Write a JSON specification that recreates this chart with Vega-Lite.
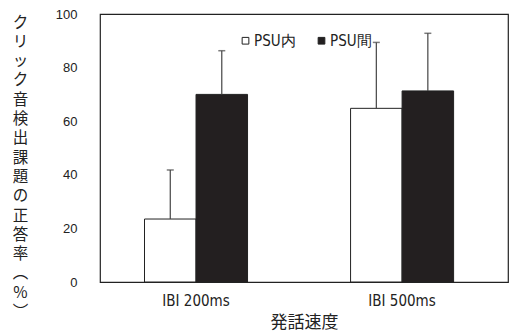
{
  "$schema": "https://vega.github.io/schema/vega-lite/v6.json",
  "width": 408,
  "height": 268,
  "autosize": {"type": "none"},
  "padding": {"left": 100, "top": 14, "right": 1, "bottom": 53},
  "background": "white",
  "config": {
    "view": {"stroke": "#222", "strokeWidth": 1.2},
    "font": "Noto Sans CJK JP"
  },
  "data": {
    "values": [
      {"speed": "IBI 200ms", "group": "PSU内", "value": 23.5, "upper": 41.8},
      {"speed": "IBI 200ms", "group": "PSU間", "value": 70.0, "upper": 86.3},
      {"speed": "IBI 500ms", "group": "PSU内", "value": 64.8, "upper": 89.4},
      {"speed": "IBI 500ms", "group": "PSU間", "value": 71.3, "upper": 92.8}
    ]
  },
  "encoding": {
    "x": {
      "field": "speed", "type": "nominal",
      "scale": {"paddingInner": 0.5, "paddingOuter": 0.24, "align": 0.45},
      "axis": {
        "title": "発話速度", "labelAngle": 0, "ticks": false, "domain": false, "grid": false,
        "labelFontSize": 15, "labelColor": "#222", "labelFont": "DejaVu Sans Condensed", "labelPadding": 11,
        "titleFontSize": 17, "titleColor": "#222", "titleFontWeight": "normal", "titlePadding": 6
      }
    },
    "xOffset": {"field": "group", "type": "nominal", "scale": {"paddingInner": 0, "paddingOuter": 0}}
  },
  "layer": [
    {
      "mark": {"type": "bar", "stroke": "#222", "strokeWidth": 1},
      "encoding": {
        "y": {
          "field": "value", "type": "quantitative",
          "scale": {"domain": [0, 100], "nice": false},
          "axis": {
            "values": [0, 20, 40, 60, 80, 100], "grid": false, "ticks": false, "domain": false,
            "labelFontSize": 13, "labelColor": "#222", "labelFont": "Liberation Sans", "labelPadding": 23,
            "title": ["ク","リ","ッ","ク","音","検","出","課","題","の","正","答","率","︵","%","︶"],
            "titleAngle": 0, "titleAlign": "center", "titleBaseline": "top",
            "titleX": -80, "titleY": 1, "titleFontSize": 15.5, "titleLineHeight": 19.3,
            "titleFontWeight": "normal", "titleColor": "#222"
          }
        },
        "fill": {
          "field": "group", "type": "nominal",
          "scale": {"domain": ["PSU内", "PSU間"], "range": ["white", "#231f20"]},
          "legend": {
            "title": null, "orient": "none", "direction": "horizontal",
            "legendX": 138, "legendY": 19, "symbolType": "square", "symbolSize": 45,
            "symbolStrokeColor": "#222", "symbolStrokeWidth": 1, "labelFontSize": 15,
            "labelFont": "DejaVu Sans Condensed", "labelColor": "#222", "columnPadding": 18, "labelOffset": 1
          }
        }
      }
    },
    {
      "mark": {"type": "rule", "color": "#444", "strokeWidth": 1.2},
      "encoding": {
        "y": {"field": "value", "type": "quantitative"},
        "y2": {"field": "upper"}
      }
    },
    {
      "mark": {"type": "tick", "color": "#444", "size": 7, "thickness": 1.5, "orient": "horizontal"},
      "encoding": {
        "y": {"field": "upper", "type": "quantitative"}
      }
    }
  ]
}
